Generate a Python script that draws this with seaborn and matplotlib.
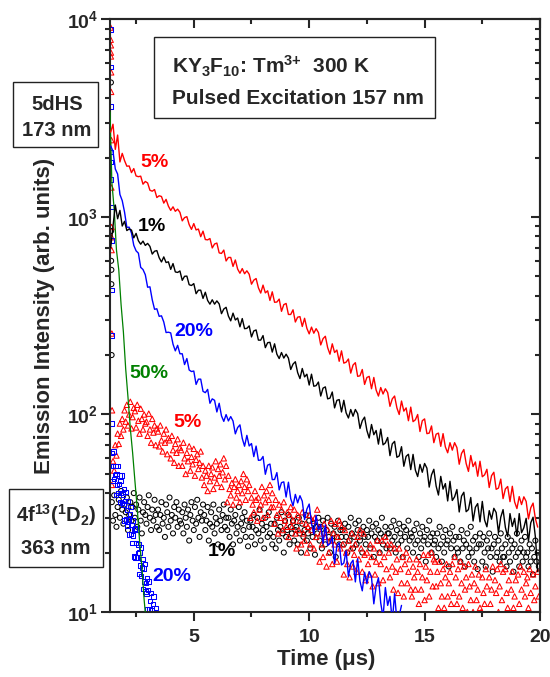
import numpy as np
import pandas as pd
import matplotlib
matplotlib.use("Agg")
import matplotlib.pyplot as plt
from matplotlib.patches import Rectangle
from matplotlib.ticker import MultipleLocator, AutoMinorLocator, LogLocator, NullFormatter
import seaborn as sns

# ---------------- data ----------------
# 173 nm (5dHS) decays, one reading every 0.1 us from 1.4 us
red5_line = [2690, 2950, 2200, 2600, 1900, 2100,
             1930, 1808, 1813, 1678, 1758, 1614, 1600, 1610, 1466, 1513,
             1487, 1366, 1351, 1377, 1255, 1281, 1270, 1176, 1228, 1135,
             1080, 1126, 1069, 1096, 1056, 956, 993, 1004, 915, 866,
             926, 860, 869, 795, 848, 769, 766, 778, 697, 730,
             738, 658, 654, 680, 599, 624, 624, 562, 606, 545,
             519, 548, 516, 534, 513, 457, 479, 488, 438, 412,
             452, 413, 423, 378, 418, 370, 371, 384, 333, 360,
             365, 321, 321, 339, 294, 311, 313, 279, 307, 273,
             256, 277, 258, 272, 260, 225, 242, 249, 218, 202,
             228, 206, 212, 186, 210, 182, 184, 191, 162, 178,
             183, 156, 157, 169, 142, 154, 156, 135, 154, 133,
             124, 137, 127, 135, 129, 110, 120, 124, 108, 100,
             117, 104, 108, 93, 109, 92, 94, 100, 82, 93,
             95, 80, 80.5, 87.5, 72, 79.5, 80.5, 69, 80, 68.5,
             64, 72, 66, 72, 68, 56, 63.5, 66.5, 56.5, 51.5,
             62, 54.5, 57.5, 48.7, 58, 48.4, 49.5, 52.8, 42.7, 49,
             51, 41.8, 42.4, 47.1, 37.5, 42, 43.2, 36.2, 43.3, 36.1,
             33.4, 38.4, 35, 38.3, 36.3, 29.6, 33.7, 35.6, 29.7, 26.9]
black1_line = [700, 900, 1150, 980, 1080, 900,
               951, 854, 870, 859, 784, 826, 758, 728, 755, 718,
               735, 710, 649, 671, 676, 622, 592, 628, 588, 593,
               543, 581, 527, 524, 533, 478, 501, 502, 454, 450,
               460, 409, 426, 426, 387, 416, 378, 362, 381, 362,
               376, 363, 324, 342, 349, 315, 298, 326, 301, 308,
               278, 306, 272, 273, 281, 247, 265, 268, 238, 238,
               251, 218, 231, 232, 207, 228, 202, 192, 206, 193,
               202, 193, 169, 180, 185, 163, 152, 171, 155, 160,
               141, 160, 139, 140, 146, 124, 136, 138, 120, 121,
               130, 108, 118, 119, 103, 118, 102, 96, 106, 98,
               106, 101, 85, 93, 97, 83, 76, 89, 79, 83,
               70.8, 84.4, 70.2, 71.8, 76.5, 61.9, 71, 73.1, 60.7, 61.7,
               68.7, 54.7, 61.4, 62.9, 52.6, 62.8, 52.3, 48.5, 55.9, 51,
               56.5, 53.5, 42.9, 49.5, 52.8, 43.4, 39.1, 48.6, 41.9, 44.7,
               36.5, 45.9, 36.7, 38.3, 41.7, 32.1, 38.6, 40.4, 32.2, 33,
               38, 28.9, 33.9, 35.4, 28.6, 36.3, 29.2, 27, 32.6, 29.5,
               33.5, 31.9, 25.2, 30.2, 33, 26.8, 24.1, 31.5, 27.1, 29.8,
               24.2, 31.5, 25.2, 26.7, 29.8, 22.8, 28.3, 30.2, 24, 16]
blue20_line = [2290, 2150, 1750, 1650, 1300, 1210,
               1059, 886, 888, 830, 719, 674, 656, 556, 542, 510,
               441, 443, 381, 341, 343, 314, 316, 294, 260, 261,
               259, 227, 210, 224, 203, 203, 179, 192, 168, 165,
               166, 142, 151, 151, 131, 129, 134, 114, 120, 118,
               103, 114, 98.4, 92.3, 99.9, 92.8, 97.6, 92.7, 79.8, 85.9,
               88.6, 75.7, 69.1, 78.4, 69.3, 71.3, 61.2, 69.2, 58.6, 58.8,
               61.3, 49.8, 55.4, 56.1, 46.8, 46.9, 50.8, 41.5, 45.2, 45.6,
               38.2, 45.4, 37.5, 34.5, 39.4, 35.7, 38.8, 36.4, 29.4, 33.2,
               35.2, 28.1, 24.8, 30.9, 26, 27.7, 22.2, 27.6, 21.7, 22.2,
               24.1, 17.6, 21.6, 22.4, 17.3, 17.7, 20.4, 15.1, 17.6, 18.3,
               14.2, 18.6, 14.3, 12.8, 15.9, 13.9, 16, 15, 11, 13.5,
               14.9, 11.1, 9.4, 13.3, 10.8, 12, 8.9, 12.4, 9, 9.6, 10.8]
green50_t = [1.37, 1.45, 1.55, 1.65, 1.75, 1.85, 1.95, 2.05, 2.15, 2.25,
             2.35, 2.45, 2.55, 2.65, 2.75, 2.85, 2.95]
green50_line = [3400, 1500, 1100, 680, 540, 360, 262, 170, 122, 85,
                64, 46, 33.5, 23, 17, 11.5, 8.5]

# 363 nm (4f13 1D2) emission, one reading every 0.05 us from 1.45 us
black1_pts = [36, 29, 39, 31, 27, 34, 37, 30, 41, 33, 28, 35, 32, 38, 26, 31, 36, 29, 34, 40,
              30, 35, 27, 33, 38, 29, 25, 32, 36, 31, 28, 34, 39, 30, 26, 33, 29, 37, 31, 27,
              33, 26, 31, 36, 28, 30, 24, 35, 32, 27, 38, 29, 31, 25, 34, 30, 36, 27, 33, 29,
              28, 32, 25, 35, 30, 27, 33, 23, 31, 36, 29, 26, 34, 28, 37, 30, 24, 32, 29, 35,
              31, 26, 29, 34, 23, 28, 32, 27, 35, 25, 30, 28, 22, 33, 29, 26, 31, 35, 27, 30,
              26, 30, 24, 33, 28, 22, 29, 31, 25, 27, 34, 23, 28, 30, 26, 32, 24, 29, 21.5, 27,
              29, 24, 27, 31, 22, 26, 30, 25, 33, 23, 28, 26, 21, 30, 27, 24, 32, 25, 28, 22,
              24, 28, 21, 30, 26, 23, 27, 32, 25, 20, 29, 24, 26, 31, 22, 27, 25, 29, 23, 26,
              27, 22, 30, 25, 20, 28, 24, 26, 31, 23, 25, 29, 21, 26, 24, 28, 19.5, 27, 25, 30,
              23, 27, 21, 29, 25, 22, 26, 30, 24, 20, 28, 23, 25, 27, 19, 24, 29, 22, 26, 24,
              26, 22, 28, 24, 20, 27, 23, 30, 25, 21, 24, 28, 22, 26, 29, 23, 25, 20, 27, 24,
              22, 26, 24, 29, 21, 25, 27, 19, 24, 28, 23, 26, 20, 25, 30, 22, 24, 27, 21, 25,
              25, 21, 27, 23, 29, 24, 20, 26, 22, 28, 25, 23, 19, 27, 24, 26, 21, 29, 23, 25,
              24, 20, 26, 22, 28, 23, 19, 25, 21, 27, 23, 24, 18, 26, 22, 29, 24, 20, 25, 22,
              23, 19, 25, 21, 27, 22, 18, 24, 20, 26, 22, 23, 17, 25, 21, 27, 23, 19, 24, 21,
              20, 24, 18, 26, 21, 23, 17, 22, 25, 19, 21, 27, 20, 23, 18, 24, 21, 16.5, 22, 25,
              22, 18, 24, 20, 17, 23, 21, 25, 19, 21, 16, 22, 24, 19, 20, 23, 18, 25, 21, 19,
              19, 22, 17, 24, 20, 18, 23, 21, 16, 22, 19, 25, 20, 17, 21, 23, 18, 20, 24, 19,
              20, 17, 22, 18, 21, 15.5, 19, 23, 18, 20, 17]
red5_pts = [44, 58, 52, 70, 62, 80, 71, 90, 78, 95,
            84, 105, 92, 112, 88, 100, 116, 85, 97, 108,
            104, 86, 112, 93, 80, 107, 95, 84, 100, 90,
            92, 78, 101, 84, 72, 95, 81, 88, 70, 85,
            82, 69, 88, 74, 65, 80, 72, 84, 63, 76,
            74, 60, 78, 66, 57, 71, 64, 75, 55, 68,
            66, 55, 72, 60, 50, 64, 58, 69, 52, 61, 56, 67, 49, 59, 63, 53, 57, 65, 48, 55,
            44, 52, 49, 41, 55, 46, 50, 54, 42, 48, 58, 45, 53, 49, 56, 43, 51, 60, 47, 55,
            36, 49, 42, 39, 45, 35, 43, 47, 38, 41, 44, 36, 46, 40, 50, 43, 37, 47, 41, 44,
            30, 38, 35, 32, 41, 37, 29, 38, 33, 35, 43, 30, 39, 36, 41, 31, 37, 44, 34, 40,
            34, 28, 37, 31, 25, 35, 30, 33, 26, 36, 29, 27, 32, 24, 31, 34, 27, 29, 33, 25,
            21, 31, 26, 29, 22, 32, 25, 23, 28, 20, 27, 31, 22, 26, 29, 21, 30, 24, 33, 27,
            18, 25, 22, 19, 28, 24, 17, 26, 20, 23, 29, 17.5, 25, 22, 28, 18, 24, 29, 21, 27,
            22, 15.5, 26, 20, 17.5, 23, 15, 21, 25, 17, 19.5, 22, 16, 24, 18.5, 26, 21, 16, 25, 19.5,
            14.5, 20, 17.5, 15.5, 22, 19, 13.5, 21, 15.5, 18, 23, 14, 20, 17.5, 23, 14.5, 19, 24, 16.5, 22,
            20, 15, 22, 17, 13, 21, 16, 18.5, 12.5, 21, 16.5, 14, 19, 12, 17.5, 20, 14, 16, 18.5, 13,
            12, 17, 15, 13, 18.5, 16, 11, 17.5, 13, 15, 19.5, 11.5, 17, 14.5, 19.5, 12, 16, 20, 13.5, 18.5,
            18, 13.5, 16, 10.5, 18, 14, 12, 16.5, 10.5, 15, 17.5, 12, 14, 16, 11, 17.5, 12.5, 19, 15, 11,
            16.5, 12, 18, 14, 10.5, 17, 13, 15, 10, 17.5, 13.5, 11.5, 15.5, 10, 14, 17, 11.5, 13, 15.5, 10.5,
            10, 15, 12.5, 11, 16.5, 13.5, 9.5, 15, 11, 13, 17, 9.5, 14.5, 12.5, 16.5, 10, 13.5, 17.5, 11.5, 16,
            9, 16.5, 12.5, 10.5, 14.5, 9, 13, 16, 10.5, 12, 14.5, 9.5, 15.5, 11, 17, 13, 9.5, 16, 12, 14,
            15, 10.5, 16.5, 12.5, 9, 15.5, 11.5, 13.5, 8.8, 16, 12]
# blue squares, one reading every 0.025 us from 1.45 us
blue20_pts = [64, 46, 55, 65, 47, 49.5, 55, 39, 50, 44, 55, 40, 44.5, 49, 36, 46,
              40, 49, 35.6, 39.4, 35, 42, 29, 36.4, 40.5, 29.4, 32.8, 27.3,
              36.5, 29.4, 24.7, 31.4, 33.9, 24.9, 27.5, 22.4, 29.1, 24.4, 19.1, 26.2,
              26.5, 18.9, 22.4, 26.2, 18.9, 19.9, 22, 15.6, 20, 17.2, 21.2, 15.2,
              16.8, 18.5, 13.1, 16.6, 14.3, 17.5, 12.7, 14, 12.4, 14.8, 10.3, 12.9,
              14.3, 10.3, 11.4, 9.4, 12.5, 10.2, 8.5, 11, 12, 8.8, 9.8, 8, 10.5]

# excitation-pulse points at the start of the 363 nm traces
red5_pulse_t = [1.40, 1.40, 1.41, 1.41, 1.41, 1.42, 1.42, 1.43, 1.43, 1.44, 1.44, 1.44, 1.45, 1.46]
red5_pulse = [9100, 7900, 7400, 6800, 6500, 5400, 4300, 2450, 1410, 890, 790, 680, 257, 105]
blue20_pulse_t = [1.40, 1.41, 1.41, 1.42, 1.42, 1.42, 1.43, 1.43, 1.44, 1.45, 1.46]
blue20_pulse = [8900, 5750, 3630, 2140, 1900, 1550, 1120, 760, 427, 251, 90]
black1_pulse_t = [1.41, 1.42, 1.42, 1.43, 1.43, 1.44]
black1_pulse = [4800, 850, 600, 540, 457, 200]

line_start, line_step = 1.4, 0.1
pts_start, pts_step = 1.45, 0.05
sq_start, sq_step = 1.45, 0.025

# ---------------- style ----------------
sns.set_style("ticks")
plt.rcParams["font.family"] = ["Liberation Sans", "DejaVu Sans"]
plt.rcParams["font.weight"] = "bold"
plt.rcParams["mathtext.fontset"] = "custom"
plt.rcParams["mathtext.rm"] = "Liberation Sans:bold"
plt.rcParams["mathtext.bf"] = "Liberation Sans:bold"
plt.rcParams["mathtext.it"] = "Liberation Sans:bold:italic"
plt.rcParams["mathtext.sf"] = "Liberation Sans:bold"
plt.rcParams["mathtext.default"] = "rm"
plt.rcParams["axes.linewidth"] = 1.5

W, H = 550, 677
fig = plt.figure(figsize=(W / 100, H / 100), dpi=100)
ax = fig.add_axes([110 / W, 1 - 612 / H, 430 / W, (612 - 19.5) / H])


def tgrid(start, step, vals):
    return start + step * np.arange(len(vals))


# scatter series (363 nm)
d_black_pts = pd.DataFrame({"t": list(black1_pulse_t) + list(tgrid(pts_start, pts_step, black1_pts)),
                            "I": black1_pulse + black1_pts})
d_red_pts = pd.DataFrame({"t": list(red5_pulse_t) + list(tgrid(pts_start, pts_step, red5_pts)),
                          "I": red5_pulse + red5_pts})
d_blue_pts = pd.DataFrame({"t": list(blue20_pulse_t) + list(tgrid(sq_start, sq_step, blue20_pts)),
                           "I": blue20_pulse + blue20_pts})

sns.scatterplot(data=d_black_pts, x="t", y="I", marker="o", s=13, facecolor="none",
                edgecolor="black", linewidth=0.75, ax=ax, zorder=2)
sns.scatterplot(data=d_red_pts, x="t", y="I", marker="^", s=15, facecolor="none",
                edgecolor="#ff0000", linewidth=0.75, ax=ax, zorder=2.1)
sns.scatterplot(data=d_blue_pts, x="t", y="I", marker="s", s=10, facecolor="none",
                edgecolor="#0000ff", linewidth=0.75, ax=ax, zorder=2.2)

# line series (173 nm)
d_green = pd.DataFrame({"t": green50_t, "I": green50_line})
d_blue = pd.DataFrame({"t": tgrid(line_start, line_step, blue20_line), "I": blue20_line})
d_black = pd.DataFrame({"t": tgrid(line_start, line_step, black1_line), "I": black1_line})
d_red = pd.DataFrame({"t": tgrid(line_start, line_step, red5_line), "I": red5_line})

sns.lineplot(data=d_green, x="t", y="I", color="#008000", lw=0.9, estimator=None, sort=False, ax=ax, zorder=3)
sns.lineplot(data=d_blue, x="t", y="I", color="#0000ff", lw=1.0, estimator=None, sort=False, ax=ax, zorder=3)
sns.lineplot(data=d_black, x="t", y="I", color="black", lw=1.0, estimator=None, sort=False, ax=ax, zorder=3)
sns.lineplot(data=d_red, x="t", y="I", color="#ff0000", lw=1.0, estimator=None, sort=False, ax=ax, zorder=3)

# ---------------- axes ----------------
ax.set_yscale("log")
ax.set_xlim(1.37, 20)
ax.set_ylim(10, 10000)
ax.xaxis.set_major_locator(MultipleLocator(5))
ax.xaxis.set_minor_locator(AutoMinorLocator(2))
ax.set_yticks([10, 100, 1000, 10000])
ax.set_yticklabels([r"$10^{1}$", r"$10^{2}$", r"$10^{3}$", r"$10^{4}$"])
ax.yaxis.set_minor_locator(LogLocator(base=10, subs=np.arange(2, 10)))
ax.yaxis.set_minor_formatter(NullFormatter())
ax.tick_params(which="major", direction="out", length=6.5, width=1.5, labelsize=14)
ax.tick_params(which="minor", direction="out", length=3.5, width=1.5)
ax.tick_params(axis="x", which="major", pad=6)
ax.tick_params(axis="y", which="major", pad=2)
for lab in ax.get_xticklabels() + ax.get_yticklabels():
    lab.set_fontweight("bold")

secx = ax.secondary_xaxis("top")
secx.xaxis.set_major_locator(MultipleLocator(5))
secx.xaxis.set_minor_locator(AutoMinorLocator(2))
secx.tick_params(which="major", direction="in", length=6.5, width=1.5, labeltop=False)
secx.tick_params(which="minor", direction="in", length=3.5, width=1.5)
secy = ax.secondary_yaxis("right")
secy.yaxis.set_major_locator(LogLocator(base=10))
secy.yaxis.set_minor_locator(LogLocator(base=10, subs=np.arange(2, 10)))
secy.tick_params(which="major", direction="in", length=6.5, width=1.5, labelright=False)
secy.tick_params(which="minor", direction="in", length=3.5, width=1.5, labelright=False)
secy.yaxis.set_minor_formatter(NullFormatter())

ax.set_xlabel("Time (μs)", fontsize=16, fontweight="bold")
ax.set_ylabel("Emission Intensity (arb. units)", fontsize=16, fontweight="bold")
ax.xaxis.set_label_coords(0.502, -0.062)
ax.yaxis.set_label_coords(-0.128, 0.5)

# ---------------- annotations ----------------
ann = dict(fontsize=14, fontweight="bold", ha="center", va="center", zorder=4)
ax.text(3.28, 1897, "5%", color="#ff0000", **ann)
ax.text(3.19, 897, "1%", color="black", **ann)
ax.text(5.01, 264, "20%", color="#0000ff", **ann)
ax.text(3.06, 162, "50%", color="#008000", **ann)
ax.text(4.71, 91.5, "5%", color="#ff0000", **ann)
ax.text(6.23, 20.3, "1%", color="black", **ann)
ax.text(4.06, 15.2, "20%", color="#0000ff", **ann)


def box(x0, y0, x1, y1):
    fig.add_artist(Rectangle((x0 / W, 1 - y1 / H), (x1 - x0) / W, (y1 - y0) / H,
                             transform=fig.transFigure, facecolor="white",
                             edgecolor="#222222", linewidth=1.0, zorder=5))


box(154, 37, 435, 118)
fig.text(172 / W, 1 - 66 / H, r"KY$_{3}$F$_{10}$: Tm$^{3{+}}$  300 K", fontsize=15,
         fontweight="bold", ha="left", va="center", zorder=6)
fig.text(172 / W, 1 - 99 / H, "Pulsed Excitation 157 nm", fontsize=15,
         fontweight="bold", ha="left", va="center", zorder=6)

box(13, 82, 98, 147)
fig.text(57 / W, 1 - 104 / H, "5dHS", fontsize=14.5, fontweight="bold",
         ha="center", va="center", zorder=6)
fig.text(57 / W, 1 - 130 / H, "173 nm", fontsize=14.5, fontweight="bold",
         ha="center", va="center", zorder=6)

box(9, 489, 103, 567)
fig.text(56 / W, 1 - 515 / H, r"4f$^{13}$($^{1}$D$_{2}$)", fontsize=14.5,
         fontweight="bold", ha="center", va="center", zorder=6)
fig.text(56 / W, 1 - 548 / H, "363 nm", fontsize=14.5, fontweight="bold",
         ha="center", va="center", zorder=6)

fig.savefig("out.png", dpi=100)
